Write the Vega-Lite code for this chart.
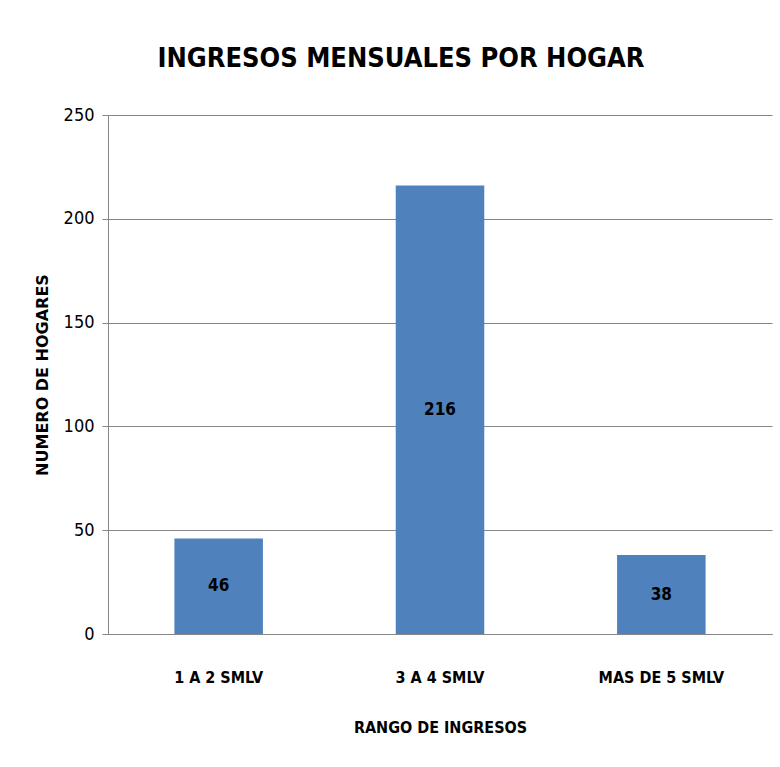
{
  "$schema": "https://vega.github.io/schema/vega-lite/v6.json",
  "width": 664,
  "height": 519,
  "autosize": {"type": "none"},
  "padding": {"left": 108, "top": 115, "right": 8, "bottom": 133},
  "background": "white",
  "title": {
    "text": "INGRESOS MENSUALES POR HOGAR",
    "font": "DejaVu Sans Condensed",
    "fontSize": 27,
    "fontWeight": "bold",
    "color": "#000000",
    "anchor": "middle",
    "dx": -39,
    "offset": 33
  },
  "data": {
    "values": [
      {"rango": "1 A 2 SMLV", "hogares": 46},
      {"rango": "3 A 4 SMLV", "hogares": 216},
      {"rango": "MAS DE 5 SMLV", "hogares": 38}
    ]
  },
  "transform": [{"calculate": "datum.hogares / 2", "as": "mitad"}],
  "encoding": {
    "x": {
      "field": "rango",
      "type": "nominal",
      "sort": null,
      "scale": {"paddingInner": 0.6, "paddingOuter": 0.3},
      "axis": {
        "title": "RANGO DE INGRESOS",
        "labelAngle": 0,
        "ticks": false,
        "domainColor": "#868686",
        "labelFont": "DejaVu Sans Condensed",
        "labelFontSize": 16,
        "labelFontWeight": "bold",
        "labelColor": "#000000",
        "labelPadding": 35,
        "titleFont": "DejaVu Sans Condensed",
        "titleFontSize": 16,
        "titleFontWeight": "bold",
        "titleColor": "#000000",
        "titlePadding": 34
      }
    }
  },
  "layer": [
    {
      "mark": {"type": "bar", "color": "#4F81BD"},
      "encoding": {
        "y": {
          "field": "hogares",
          "type": "quantitative",
          "scale": {"domain": [0, 250], "nice": false, "zero": true},
          "axis": {
            "title": "NUMERO DE HOGARES",
            "values": [0, 50, 100, 150, 200, 250],
            "grid": true,
            "gridColor": "#868686",
            "domainColor": "#868686",
            "tickColor": "#868686",
            "tickSize": 6,
            "labelFont": "DejaVu Sans Condensed",
            "labelFontSize": 18,
            "labelColor": "#000000",
            "labelPadding": 8,
            "titleFont": "DejaVu Sans",
            "titleFontSize": 16,
            "titleFontWeight": "bold",
            "titleColor": "#000000",
            "titlePadding": 13
          }
        }
      }
    },
    {
      "mark": {
        "type": "text",
        "font": "DejaVu Sans Condensed",
        "fontSize": 17,
        "fontWeight": "bold",
        "color": "#000000",
        "baseline": "middle"
      },
      "encoding": {
        "y": {"field": "mitad", "type": "quantitative"},
        "text": {"field": "hogares", "type": "quantitative"}
      }
    }
  ],
  "config": {"view": {"stroke": null}}
}
